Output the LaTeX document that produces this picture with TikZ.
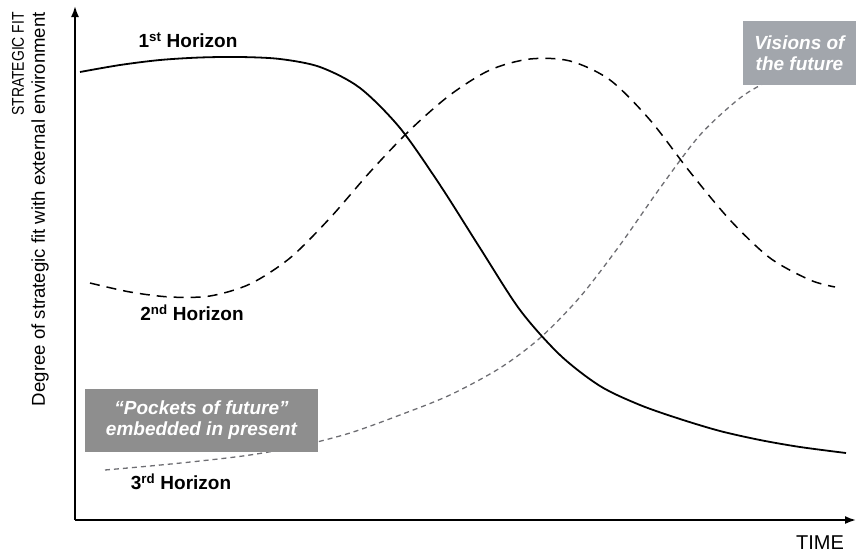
\documentclass[tikz,border=0pt]{standalone}
\usepackage{fontspec}
\setmainfont{Liberation Sans}
\usetikzlibrary{arrows.meta}
\definecolor{pocketgray}{RGB}{142,142,142}
\definecolor{visiongray}{RGB}{162,166,172}
\definecolor{thirdgray}{RGB}{110,110,115}
\begin{document}
\begin{tikzpicture}[x=1pt, y=-1pt, every node/.style={inner sep=0pt}]
\tikzset{hlabel/.style={font=\fontsize{19}{22}\selectfont\bfseries},
  greybox/.style={text=white, align=center, font=\fontsize{19}{21}\selectfont\bfseries\itshape},
  axis/.style={line width=1.8pt, -{Latex[length=11pt,width=8pt]}}}
\useasboundingbox (0,0) rectangle (856,554);
% axes
\coordinate (o) at (75,520);
\coordinate (ytop) at (75,6);
\coordinate (xend) at (856,520);
\draw [black] [axis] (o) -- (ytop);
\draw [black] [axis] (o) -- (xend);
\node (timelab) at (820,543) {\fontsize{20}{22}\selectfont TIME};
\node (ylab) [rotate=90, anchor=east] at (18,12) {\fontsize{17}{22}\selectfont\scalebox{0.82}[1]{STRATEGIC FIT}};
\node (ylab2) [rotate=90, anchor=east] at (40,12) {\fontsize{18.6}{22}\selectfont Degree of strategic fit with external environment};
% 3rd horizon
\draw [thirdgray] [line width=1.3pt, dash pattern=on 5pt off 4pt]
  plot [smooth, tension=0.5] coordinates {(105,470) (150,466) (200,461) (250,455) (300,446) (350,433) (400,415) (450,395) (500,368) (540,338) (580,297) (620,245) (660,188) (700,135) (740,98) (770,80) (800,64)};
% 2nd horizon
\draw [black] [line width=1.5pt, dash pattern=on 10pt off 7pt]
  plot [smooth, tension=0.5] coordinates {(90,283) (130,292) (170,297) (210,296) (250,284) (290,258) (330,218) (370,172) (410,130) (450,95) (490,70) (530,59) (570,61) (610,80) (650,120) (690,172) (730,220) (770,258) (810,280) (835,287)};
% 1st horizon
\draw [black] [line width=1.8pt]
  plot [smooth, tension=0.5] coordinates {(80,72) (120,65) (160,60) (200,57.5) (240,57) (280,59) (320,67) (360,88) (400,128) (440,185) (480,248) (520,310) (560,355) (600,386) (640,405) (680,419) (720,431) (760,440) (800,447) (846,453)};
% boxes
\node (pockets) [greybox, fill=pocketgray, minimum width=233pt, minimum height=63pt] at (201.5,420.5) {``Pockets of future''\\embedded in present};
\node (visions) [greybox, fill=visiongray, minimum width=113pt, minimum height=64pt] at (799.5,53) {Visions of\\the future};
% labels
\node (h1lab) [hlabel] at (188,40) {1\textsuperscript{st} Horizon};
\node (h2lab) [hlabel] at (192,313) {2\textsuperscript{nd} Horizon};
\node (h3lab) [hlabel] at (181,482) {3\textsuperscript{rd} Horizon};
\end{tikzpicture}
\end{document}
